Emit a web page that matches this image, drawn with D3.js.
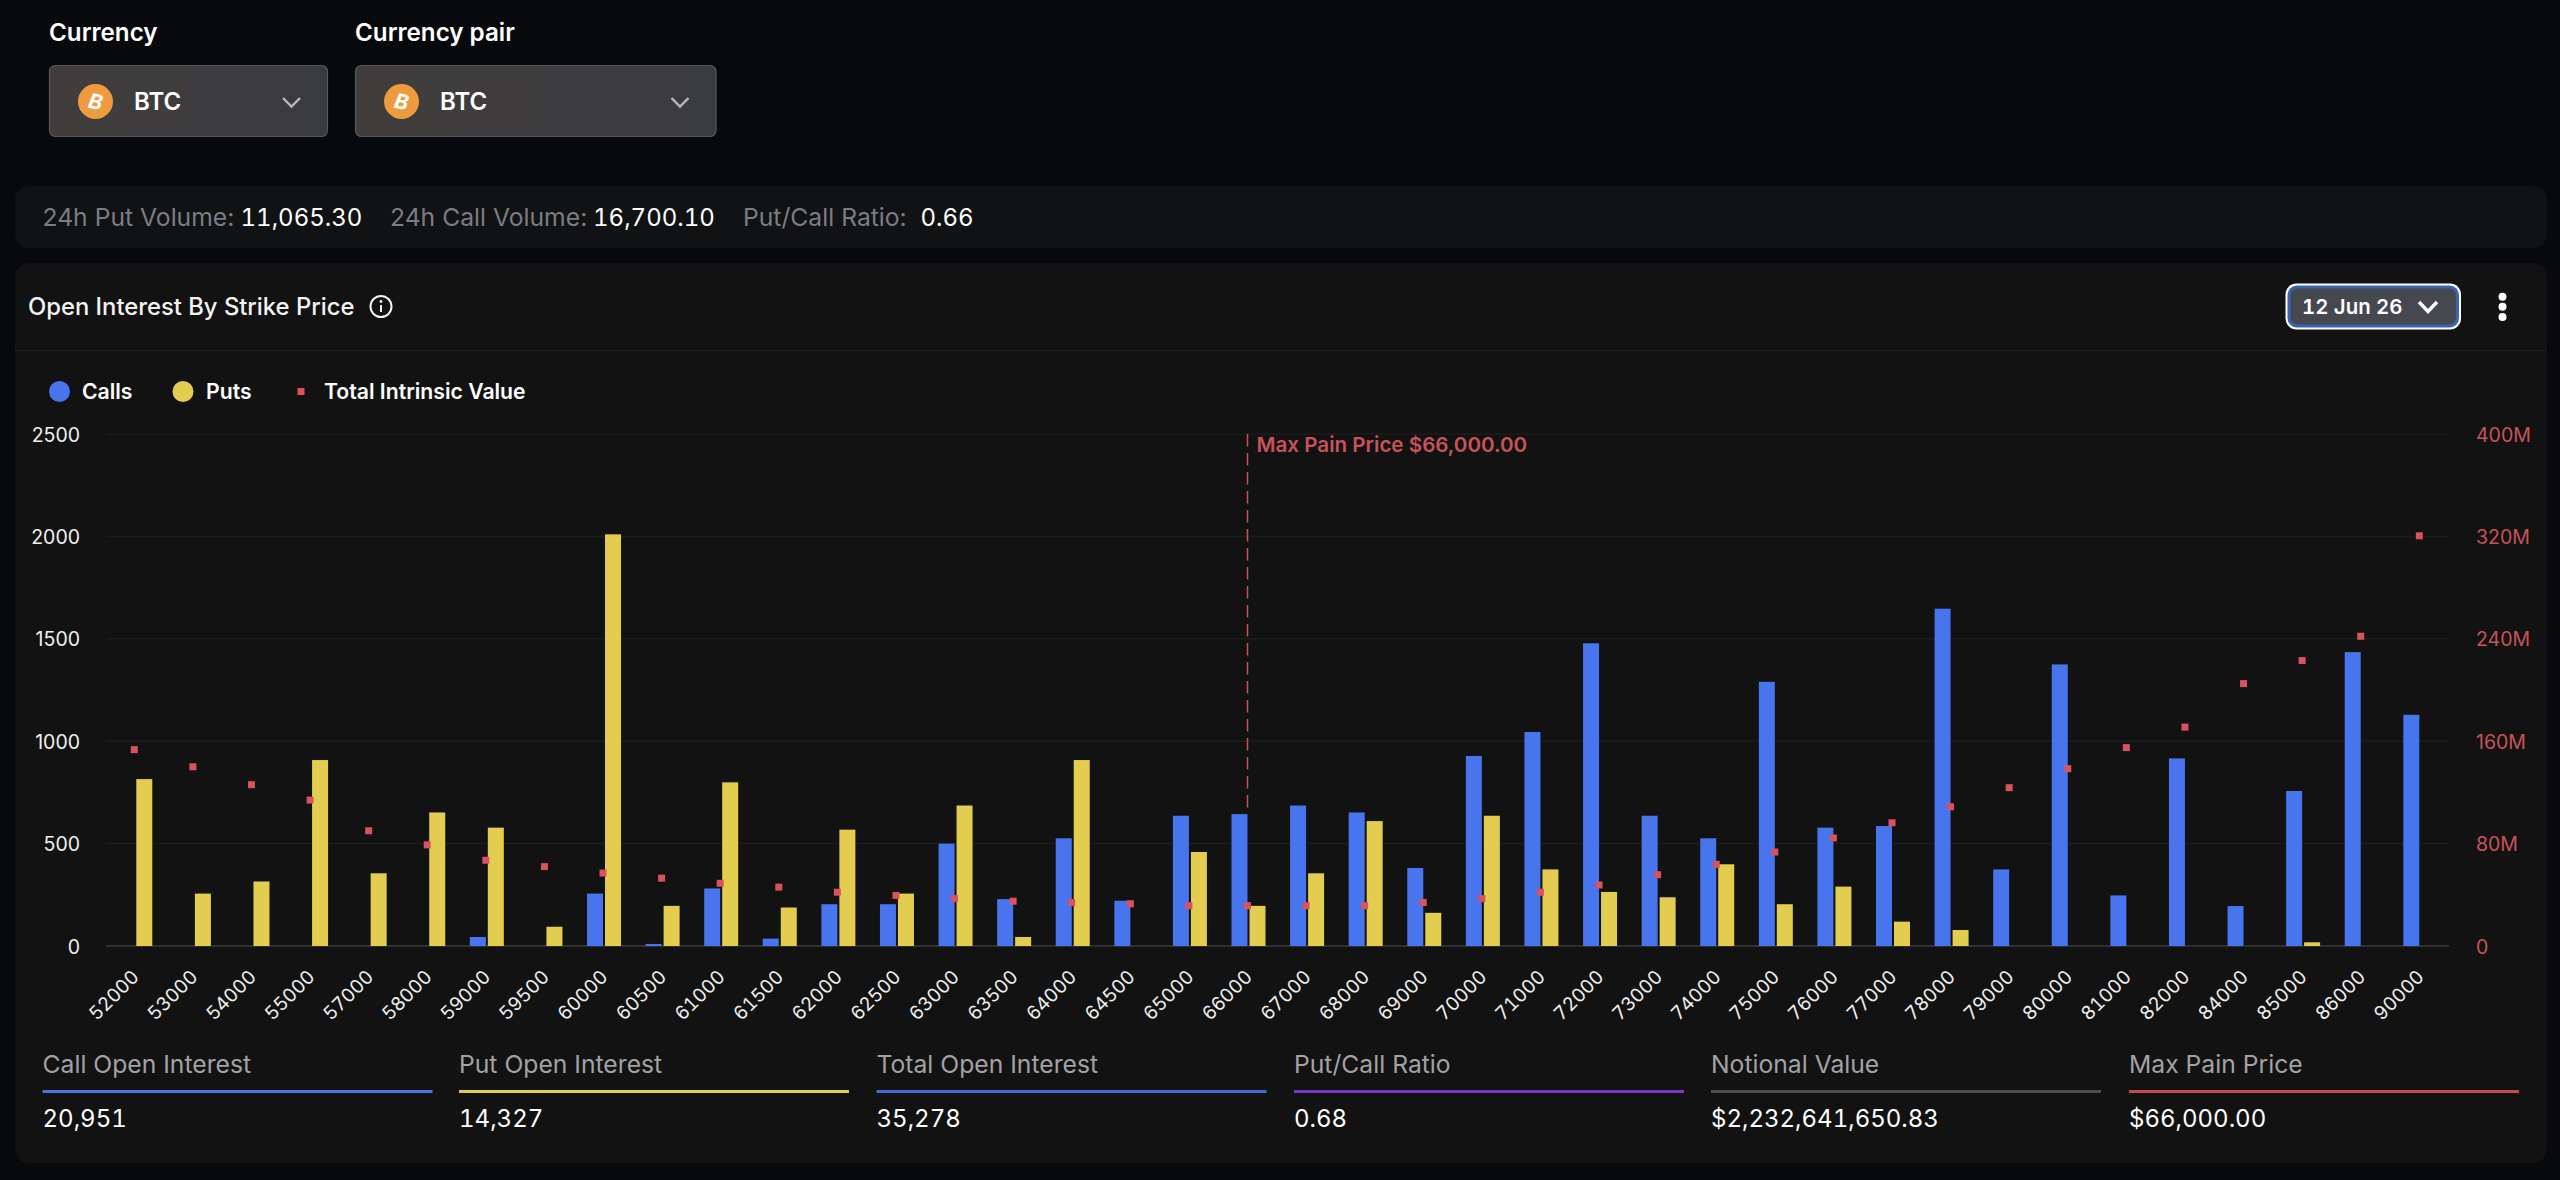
<!DOCTYPE html>
<html>
<head>
<meta charset="utf-8">
<title>Open Interest By Strike Price</title>
<script src="https://cdnjs.cloudflare.com/ajax/libs/d3/7.9.0/d3.min.js"></script>
<style>
  html, body { margin: 0; padding: 0; background: #08090c; overflow: hidden; }
  svg { display: block; font-family: Inter, "Noto Sans", sans-serif; }
  .axis path { display: none; }
  .axis line { display: none; }
  .num { font-feature-settings: "tnum" 1; font-variant-numeric: tabular-nums; }
</style>
</head>
<body>
<svg id="page" width="2560" height="1180"></svg>
<script>
// Strike prices on the category axis
const strikes = ["52000","53000","54000","55000","57000","58000","59000","59500","60000","60500",
  "61000","61500","62000","62500","63000","63500","64000","64500","65000","66000",
  "67000","68000","69000","70000","71000","72000","73000","74000","75000","76000",
  "77000","78000","79000","80000","81000","82000","84000","85000","86000","90000"];

// Open interest per strike
const calls = [0,0,0,0,0,0,44,0,256,10,281,36,204,204,500,229,526,221,636,644,
  686,652,381,928,1045,1478,636,526,1290,578,586,1647,374,1375,247,916,195,757,1435,1129];
const puts = [815,256,315,908,355,652,578,94,2010,196,799,188,568,256,686,44,908,0,459,196,
  355,610,162,636,374,264,238,399,204,290,119,78,0,0,0,0,0,18,0,0];

// Total intrinsic value per strike, in millions of dollars
const intrinsic = [153.4,140,126,114,90,79,67,62,57,53,49,46,42,39.5,37,35,34,33,31.5,31.5,
  31.5,31.5,34,37,42,47.7,55.7,63.8,73.4,84.4,96.3,108.8,123.7,138.5,155,171,205,223,242,320.5];

const leftTicks = [0,500,1000,1500,2000,2500];
const rightTicks = [0,80,160,240,320,400];
const maxPainStrike = "66000";

const volumeStats = [["24h Put Volume:","11,065.30"],["24h Call Volume:","16,700.10"],["Put/Call Ratio:","0.66"]];
const summaryLabels = ["Call Open Interest","Put Open Interest","Total Open Interest","Put/Call Ratio","Notional Value","Max Pain Price"];
const summaryValues = ["20,951","14,327","35,278","0.68","$2,232,641,650.83","$66,000.00"];
const summaryColors = ["#4a72e0","#e2cc55","#3f6bd8","#7c36c9","#4c4d54","#c64a50"];

const BLUE = "#4874ee", YELLOW = "#e3cd50", RED = "#d9525f", REDTEXT = "#c8525c";

const svg = d3.select("#page");
const defs = svg.append("defs");
const grad = defs.append("linearGradient").attr("id","selectFill").attr("x1",0).attr("x2",1).attr("y1",0).attr("y2",0);
grad.append("stop").attr("offset",0).attr("stop-color","#413d3c");
grad.append("stop").attr("offset",1).attr("stop-color","#3a3b3f");

// Panels
svg.append("rect").attr("x",15).attr("y",186).attr("width",2532).attr("height",62).attr("rx",14).attr("fill","#111213");
svg.append("rect").attr("x",15).attr("y",263).attr("width",2532).attr("height",900).attr("rx",14).attr("fill","#121212");
svg.append("line").attr("x1",15).attr("x2",2547).attr("y1",350.5).attr("y2",350.5).attr("stroke","#1b1b1b").attr("stroke-width",1.5);

// Currency selectors
function selector(x, w, label) {
  const g = svg.append("g");
  g.append("text").attr("x",x).attr("y",41).attr("fill","#fff").attr("font-size",24.2).attr("font-weight",600).text(label);
  g.append("rect").attr("x",x+.5).attr("y",65.5).attr("width",w).attr("height",71).attr("rx",6)
    .attr("fill","url(#selectFill)").attr("stroke","#57585c").attr("stroke-width",1.2);
  g.append("circle").attr("cx",x+46.5).attr("cy",101.5).attr("r",17.5).attr("fill","#ee9a3e");
  g.append("text").attr("x",x+46.5).attr("y",109).attr("text-anchor","middle").attr("fill","#fff")
    .attr("font-size",21).attr("font-weight",700).attr("font-style","italic")
    .attr("transform",`rotate(12 ${x+46.5} 101.5)`).text("B");
  g.append("text").attr("x",x+85).attr("y",110).attr("fill","#fff").attr("font-size",24).attr("font-weight",600).text("BTC");
  const cx = x + w - 35.5;
  g.append("path").attr("d",`M${cx-8.5} 98 L${cx} 106.5 L${cx+8.5} 98`).attr("fill","none").attr("stroke","#b8b9bc").attr("stroke-width",2.4);
}
selector(49, 278, "Currency");
selector(355, 360.5, "Currency pair");

// 24h volume strip
const statX = [[42.5,240.5],[390,593],[743,920.5]];
volumeStats.forEach((s,i)=>{
  svg.append("text").attr("x",statX[i][0]).attr("y",226).attr("fill","#7b7d85").attr("font-size",24.7).text(s[0]);
  svg.append("text").attr("class","num").attr("x",statX[i][1]).attr("y",226).attr("fill","#fff").attr("font-size",24).text(s[1]);
});

// Panel header
svg.append("text").attr("x",28).attr("y",315).attr("fill","#f2f2f2").attr("font-size",23.8).attr("font-weight",500).text("Open Interest By Strike Price");
const info = svg.append("g").attr("transform","translate(381,306.5)");
info.append("circle").attr("r",10.5).attr("fill","none").attr("stroke","#f2f2f2").attr("stroke-width",2);
info.append("line").attr("y1",-1.5).attr("y2",5.5).attr("stroke","#f2f2f2").attr("stroke-width",2);
info.append("circle").attr("cy",-5).attr("r",1.4).attr("fill","#f2f2f2");

// Expiry selector and menu
svg.append("rect").attr("x",2285.5).attr("y",283.5).attr("width",175.5).attr("height",46).attr("rx",11).attr("fill","#fff");
svg.append("rect").attr("x",2287.5).attr("y",285.5).attr("width",171.5).attr("height",42).attr("rx",9.5).attr("fill","#3c63b2");
svg.append("rect").attr("x",2290.5).attr("y",288.5).attr("width",165.5).attr("height",36).attr("rx",7).attr("fill","#46484f");
svg.append("text").attr("class","num").attr("x",2302).attr("y",314).attr("fill","#fff").attr("font-size",20.4).attr("font-weight",600).text("12 Jun 26");
svg.append("path").attr("d","M2419 302 L2428 311.5 L2437 302").attr("fill","none").attr("stroke","#fff").attr("stroke-width",3.4);
svg.selectAll("circle.menu").data([296.7,306.8,317]).join("circle").attr("class","menu")
  .attr("cx",2502.5).attr("cy",d=>d).attr("r",4).attr("fill","#fff");

// Legend
svg.append("circle").attr("cx",59.5).attr("cy",391.5).attr("r",10.5).attr("fill",BLUE);
svg.append("text").attr("x",82).attr("y",399).attr("fill","#fff").attr("font-size",21.2).attr("font-weight",600).text("Calls");
svg.append("circle").attr("cx",183).attr("cy",391.5).attr("r",10.5).attr("fill",YELLOW);
svg.append("text").attr("x",206).attr("y",399).attr("fill","#fff").attr("font-size",21.2).attr("font-weight",600).text("Puts");
svg.append("rect").attr("x",297.5).attr("y",388).attr("width",7).attr("height",7).attr("fill",RED);
svg.append("text").attr("x",324).attr("y",399).attr("fill","#fff").attr("font-size",21.2).attr("font-weight",600).text("Total Intrinsic Value");

// Scales
const x = d3.scaleBand().domain(strikes).range([105,2448.6]);
const inner = d3.scaleBand().domain(["calls","puts"]).range([x.bandwidth()/2-16, x.bandwidth()/2+18]).paddingInner(2/18);
const yL = d3.scaleLinear().domain([0,2500]).range([946,434]);
const yR = d3.scaleLinear().domain([0,400]).range([946,434]);

// Horizontal grid
svg.append("g").selectAll("line").data(leftTicks).join("line")
  .attr("x1",106).attr("x2",2449).attr("y1",d=>yL(d)).attr("y2",d=>yL(d))
  .attr("stroke",d=>d===0?"#2f2f31":"#1c1c1c").attr("stroke-width",d=>d===0?2:1.5);

// Max pain marker runs down to the top of that strike's call bar
const mx = x(maxPainStrike)+x.bandwidth()/2;
const maxPainCalls = calls[strikes.indexOf(maxPainStrike)];
svg.append("line").attr("x1",mx).attr("x2",mx).attr("y1",yL(2500)).attr("y2",yL(maxPainCalls))
  .attr("stroke",REDTEXT).attr("stroke-width",1.5).attr("stroke-dasharray","12.5 6.5");
svg.append("text").attr("x",mx+9).attr("y",452).attr("fill",REDTEXT).attr("font-size",20.6).attr("font-weight",600).text("Max Pain Price $66,000.00");

// Bars
const rows = strikes.map((s,i)=>({s,calls:calls[i],puts:puts[i],iv:intrinsic[i]}));
[["calls",BLUE],["puts",YELLOW]].forEach(([key,colour])=>{
  svg.append("g").selectAll("rect").data(rows.filter(r=>r[key]>0)).join("rect")
    .attr("x",r=>x(r.s)+inner(key)).attr("width",inner.bandwidth())
    .attr("y",r=>yL(r[key])).attr("height",r=>yL(0)-yL(r[key])).attr("fill",colour);
});

// Intrinsic value markers
svg.append("g").selectAll("rect").data(rows).join("rect")
  .attr("x",r=>x(r.s)+x.bandwidth()/2-3.5).attr("y",r=>yR(r.iv)-3.5)
  .attr("width",7).attr("height",7).attr("fill",RED);

// Axes
const axL = svg.append("g").attr("class","axis").attr("transform","translate(80,0)")
  .call(d3.axisLeft(yL).tickValues(leftTicks).tickSize(0).tickPadding(0).tickFormat(d3.format("d")));
axL.selectAll("text").attr("fill","#f0f0f0").attr("font-size",19.5).attr("font-family","Inter").attr("dy","0.36em");

const axR = svg.append("g").attr("class","axis").attr("transform","translate(2476,0)")
  .call(d3.axisRight(yR).tickValues(rightTicks).tickSize(0).tickPadding(0).tickFormat(d=>d===0?"0":d+"M"));
axR.selectAll("text").attr("fill",REDTEXT).attr("font-size",19.5).attr("font-family","Inter").attr("dy","0.36em");

const axB = svg.append("g").attr("class","axis").attr("transform","translate(0,946)")
  .call(d3.axisBottom(x).tickSize(0).tickPadding(0));
axB.selectAll("text").attr("class","num").attr("fill","#eeeeee").attr("font-size",19).attr("font-family","Inter")
  .attr("text-anchor","end").attr("dy",0).attr("y",0)
  .attr("transform","translate(6,32) rotate(-45)");

// Summary row
const sx = [42.5,459,876.5,1294,1711,2129];
summaryLabels.forEach((label,i)=>{
  svg.append("text").attr("x",sx[i]).attr("y",1073).attr("fill","#a2a2a4").attr("font-size",24.7).text(label);
  svg.append("rect").attr("x",sx[i]).attr("y",1090).attr("width",390).attr("height",3).attr("fill",summaryColors[i]);
  svg.append("text").attr("class","num").attr("x",sx[i]).attr("y",1127).attr("fill","#fff").attr("font-size",24).text(summaryValues[i]);
});
</script>
</body>
</html>
